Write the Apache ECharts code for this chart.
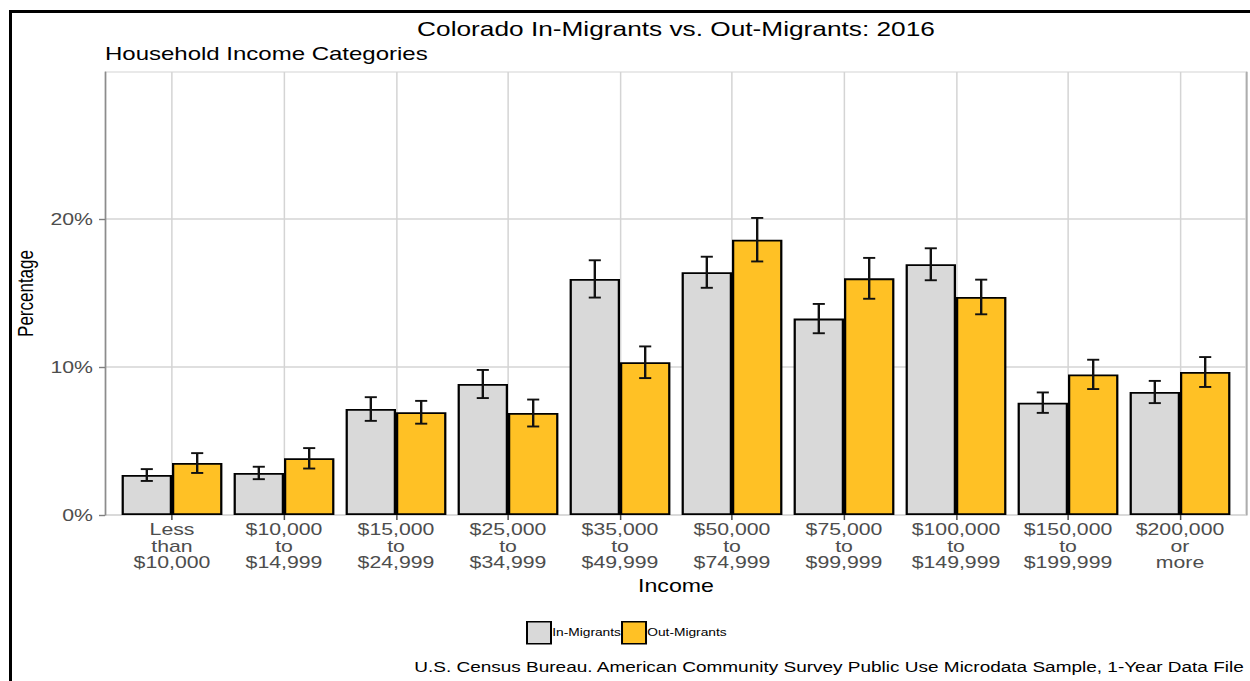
<!DOCTYPE html>
<html>
<head>
<meta charset="utf-8">
<title>Colorado In-Migrants vs. Out-Migrants: 2016</title>
<script src="https://cdn.jsdelivr.net/npm/echarts@6/dist/echarts.min.js"></script>
<style>
  html, body { margin: 0; padding: 0; background: #fff; overflow: hidden; }
  #frame {
    position: absolute; left: 9px; top: 10px; width: 1400px; height: 800px;
    border-top: 3px solid #000; border-left: 3px solid #000; pointer-events: none;
  }
  /* chart is laid out on a 1000px canvas and widened to the page */
  #chart {
    position: absolute; left: 0; top: 0; width: 1000px; height: 681px;
    transform: scaleX(1.25); transform-origin: 0 0;
  }
</style>
</head>
<body>
<div id="chart"></div>
<div id="frame"></div>
<script>
// Household income brackets (x-axis labels)
const categories = [
  'Less\nthan\n$10,000',
  '$10,000\nto\n$14,999',
  '$15,000\nto\n$24,999',
  '$25,000\nto\n$34,999',
  '$35,000\nto\n$49,999',
  '$50,000\nto\n$74,999',
  '$75,000\nto\n$99,999',
  '$100,000\nto\n$149,999',
  '$150,000\nto\n$199,999',
  '$200,000\nor\nmore'
];

// Share of households in each bracket (%)
const inMigrants  = [2.70, 2.84, 7.16, 8.85, 15.95, 16.40, 13.27, 16.94, 7.59, 8.31];
const outMigrants = [3.51, 3.83, 6.94, 6.89, 10.32, 18.60, 15.99, 14.73, 9.50, 9.66];

// Margins of error (± percentage points)
const inMigrantsMoe  = [0.40, 0.42, 0.80, 0.95, 1.26, 1.05, 0.99, 1.08, 0.69, 0.75];
const outMigrantsMoe = [0.67, 0.69, 0.77, 0.91, 1.07, 1.47, 1.38, 1.17, 0.99, 1.01];

// Y-axis tick values
const yTicks = [0, 10, 20];
const yMax = 29.93;

const FONT = 'Liberation Sans, Arial, sans-serif';
const GRID_COLOR = '#d4d4d4';

function errorRows(values, moe) {
  return values.map((v, i) => [i, v - moe[i], v + moe[i]]);
}

// Error bar drawn at the centre of one of the two dodged bars
function errorBar(side) {
  return function (params, api) {
    const idx = api.value(0);
    const band = api.size([1, 0])[0];
    const cx = api.coord([idx, 0])[0] + side * band * 0.225;
    const yHi = api.coord([idx, api.value(2)])[1];
    const yLo = api.coord([idx, api.value(1)])[1];
    const half = band * 0.054;
    const style = { stroke: '#111', lineWidth: 1.9 };
    return {
      type: 'group',
      children: [
        { type: 'line', shape: { x1: cx, y1: yHi, x2: cx, y2: yLo }, style },
        { type: 'line', shape: { x1: cx - half, y1: yHi, x2: cx + half, y2: yHi }, style },
        { type: 'line', shape: { x1: cx - half, y1: yLo, x2: cx + half, y2: yLo }, style }
      ]
    };
  };
}

const chart = echarts.init(document.getElementById('chart'), null, { renderer: 'svg' });

chart.setOption({
  animation: false,
  textStyle: { fontFamily: FONT },
  title: [
    {
      text: 'Colorado In-Migrants vs. Out-Migrants: 2016',
      left: 540.8, top: 17.5, textAlign: 'center', padding: 0,
      textStyle: { fontSize: 21, fontWeight: 'normal', color: '#000', lineHeight: 21, fontFamily: FONT }
    },
    {
      text: 'Household Income Categories',
      left: 84, top: 43.5, padding: 0,
      textStyle: { fontSize: 19.2, fontWeight: 'normal', color: '#000', lineHeight: 19, fontFamily: FONT }
    },
    {
      text: 'U.S. Census Bureau. American Community Survey Public Use Microdata Sample, 1-Year Data File',
      right: 4, top: 659.5, padding: 0,
      textStyle: { fontSize: 15.2, fontWeight: 'normal', color: '#000', lineHeight: 15, fontFamily: FONT }
    }
  ],
  legend: {
    data: ['In-Migrants', 'Out-Migrants'],
    left: 420.8, top: 621, padding: 0,
    icon: 'rect', itemWidth: 19.2, itemHeight: 22, itemGap: 0,
    itemStyle: { borderColor: '#000', borderWidth: 1.6 },
    textStyle: { fontSize: 11, color: '#000', fontFamily: FONT, padding: [0, 0, 0, -4] }
  },
  grid: [
    // bar area: one category band per income bracket
    { left: 92.8, right: 11.2, top: 72, bottom: 166 },
    // full plotting panel
    { left: 84, right: 3.2, top: 72, bottom: 166, show: true, borderColor: GRID_COLOR, borderWidth: 1.2, backgroundColor: 'transparent' }
  ],
  xAxis: [
    {
      type: 'category', gridIndex: 0, data: categories,
      name: 'Income', nameLocation: 'middle', nameGap: 54,
      nameTextStyle: { fontSize: 18.5, color: '#000', fontFamily: FONT },
      axisLine: { show: false },
      axisTick: { show: true, alignWithLabel: true, length: 5, lineStyle: { color: '#4d4d4d', width: 1.2 } },
      splitLine: { show: true, alignWithLabel: true, lineStyle: { color: GRID_COLOR, width: 1.2 } },
      axisLabel: { margin: 6.5, fontSize: 17, lineHeight: 16.5, color: '#4d4d4d', fontFamily: FONT, interval: 0 }
    },
    { type: 'value', gridIndex: 1, min: 0, max: 1, show: false }
  ],
  yAxis: [
    { type: 'value', gridIndex: 0, min: 0, max: yMax, show: false },
    {
      type: 'value', gridIndex: 1, min: 0, max: yMax, interval: 10,
      name: 'Percentage', nameLocation: 'middle', nameGap: 50,
      nameTextStyle: { fontSize: 17, color: '#000', fontFamily: FONT },
      axisLine: { show: true, lineStyle: { color: '#8c8c8c', width: 1.2 } },
      axisTick: { show: true, customValues: yTicks, length: 4.8, lineStyle: { color: '#7f7f7f', width: 1.4 } },
      splitLine: { show: true, lineStyle: { color: GRID_COLOR, width: 1.5 } },
      axisLabel: {
        margin: 9.6, fontSize: 17, color: '#4d4d4d', fontFamily: FONT,
        customValues: yTicks,
        formatter: v => (yTicks.indexOf(v) >= 0 ? v + '%' : '')
      }
    },
    {
      type: 'value', gridIndex: 1, min: 0, max: yMax, position: 'right',
      axisLine: { show: true, lineStyle: { color: '#a6a6a6', width: 1.2 } },
      axisTick: { show: false }, axisLabel: { show: false }, splitLine: { show: false }
    }
  ],
  series: [
    {
      name: 'In-Migrants', type: 'bar', xAxisIndex: 0, yAxisIndex: 0,
      data: inMigrants, barGap: '0%', barCategoryGap: '10%',
      itemStyle: { color: '#d9d9d9', borderColor: '#000', borderWidth: 1.8 }
    },
    {
      name: 'Out-Migrants', type: 'bar', xAxisIndex: 0, yAxisIndex: 0,
      data: outMigrants, barGap: '0%', barCategoryGap: '10%',
      itemStyle: { color: '#ffc125', borderColor: '#000', borderWidth: 1.8 }
    },
    {
      name: 'In-Migrants MOE', type: 'custom', xAxisIndex: 0, yAxisIndex: 0, z: 5,
      data: errorRows(inMigrants, inMigrantsMoe), renderItem: errorBar(-1), silent: true
    },
    {
      name: 'Out-Migrants MOE', type: 'custom', xAxisIndex: 0, yAxisIndex: 0, z: 5,
      data: errorRows(outMigrants, outMigrantsMoe), renderItem: errorBar(1), silent: true
    }
  ]
});
</script>
</body>
</html>
